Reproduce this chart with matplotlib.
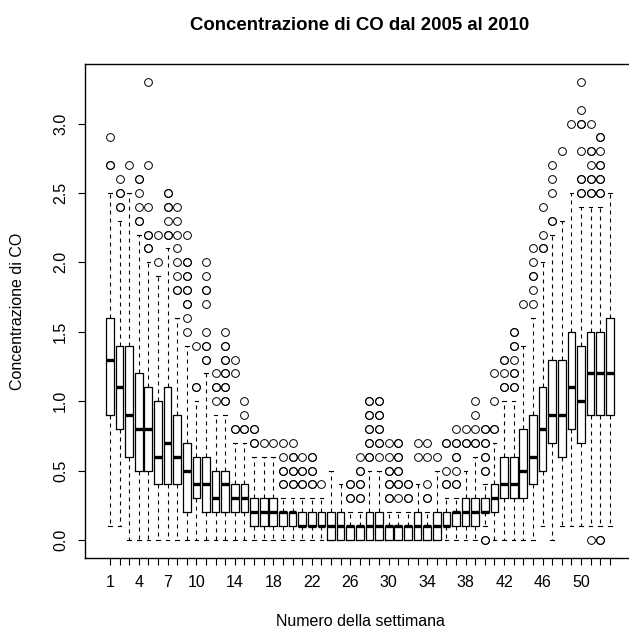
import matplotlib
matplotlib.use("Agg")
import matplotlib.pyplot as plt

plt.rcParams['font.family'] = ['Liberation Sans', 'DejaVu Sans']

# weekly CO concentration summaries
weeks = list(range(1, 54))
q1 = [0.9, 0.8, 0.6, 0.5, 0.5, 0.4, 0.4, 0.4, 0.2, 0.3,
      0.2, 0.2, 0.2, 0.2, 0.2, 0.1, 0.1, 0.1, 0.1, 0.1,
      0.1, 0.1, 0.1, 0.0, 0.0, 0.0, 0.0, 0.0, 0.0, 0.0,
      0.0, 0.0, 0.0, 0.0, 0.0, 0.1, 0.1, 0.1, 0.1, 0.2,
      0.2, 0.3, 0.3, 0.3, 0.4, 0.5, 0.7, 0.6, 0.8, 0.7,
      0.9, 0.9, 0.9]
med = [1.3, 1.1, 0.9, 0.8, 0.8, 0.6, 0.7, 0.6, 0.5, 0.4,
       0.4, 0.3, 0.4, 0.3, 0.3, 0.2, 0.2, 0.2, 0.2, 0.2,
       0.1, 0.1, 0.1, 0.1, 0.1, 0.1, 0.1, 0.1, 0.1, 0.1,
       0.1, 0.1, 0.1, 0.1, 0.1, 0.1, 0.2, 0.2, 0.2, 0.2,
       0.3, 0.4, 0.4, 0.5, 0.6, 0.8, 0.9, 0.9, 1.1, 1.0,
       1.2, 1.2, 1.2]
q3 = [1.6, 1.4, 1.4, 1.2, 1.1, 1.0, 1.1, 0.9, 0.7, 0.6,
      0.6, 0.5, 0.5, 0.4, 0.4, 0.3, 0.3, 0.3, 0.2, 0.2,
      0.2, 0.2, 0.2, 0.2, 0.2, 0.1, 0.1, 0.2, 0.2, 0.1,
      0.1, 0.1, 0.2, 0.1, 0.2, 0.2, 0.2, 0.3, 0.3, 0.3,
      0.4, 0.6, 0.6, 0.8, 0.9, 1.1, 1.3, 1.3, 1.5, 1.4,
      1.5, 1.5, 1.6]
whis_lo = [0.1, 0.1] + [0.0] * 37 + [0.1] + [0.0] * 5 + [0.1, 0.0, 0.1, 0.1, 0.1, 0.1, 0.1, 0.1]
whis_hi = [2.5, 2.3, 2.5, 2.2, 2.0, 1.9, 2.1, 1.6, 1.4, 1.0,
           1.2, 0.9, 0.9, 0.7, 0.7, 0.6, 0.6, 0.6, 0.3, 0.3,
           0.3, 0.3, 0.3, 0.5, 0.4, 0.2, 0.2, 0.5, 0.5, 0.2,
           0.2, 0.2, 0.4, 0.2, 0.5, 0.3, 0.3, 0.5, 0.6, 0.4,
           0.7, 1.0, 1.0, 1.4, 1.6, 2.0, 2.2, 2.3, 2.5, 2.4,
           2.4, 2.4, 2.5]
# repeated values = overlapping (darker) circles
outliers = [
    [2.7, 2.7, 2.9],
    [2.4, 2.4, 2.5, 2.5, 2.6],
    [2.7],
    [2.3, 2.3, 2.4, 2.5, 2.6, 2.6],
    [2.1, 2.1, 2.2, 2.2, 2.4, 2.7, 3.3],
    [2.0, 2.2],
    [2.2, 2.2, 2.3, 2.4, 2.4, 2.5, 2.5],
    [1.8, 1.8, 1.9, 2.0, 2.1, 2.2, 2.3, 2.4],
    [1.5, 1.6, 1.7, 1.7, 1.8, 1.8, 1.9, 1.9, 2.0, 2.0, 2.2],
    [1.1, 1.1, 1.4],
    [1.3, 1.3, 1.4, 1.4, 1.5, 1.7, 1.8, 1.8, 1.9, 2.0],
    [1.0, 1.1, 1.1, 1.2],
    [1.0, 1.0, 1.1, 1.1, 1.2, 1.2, 1.3, 1.3, 1.4, 1.4, 1.5],
    [0.8, 0.8, 1.2, 1.3],
    [0.8, 0.8, 0.9, 1.0],
    [0.7, 0.7, 0.8, 0.8],
    [0.7],
    [0.7],
    [0.4, 0.4, 0.5, 0.5, 0.6, 0.7],
    [0.4, 0.4, 0.5, 0.5, 0.6, 0.6, 0.7],
    [0.4, 0.4, 0.5, 0.5, 0.6],
    [0.4, 0.4, 0.5, 0.5, 0.6, 0.6],
    [0.4],
    [],
    [],
    [0.3, 0.3, 0.4, 0.4],
    [0.3, 0.3, 0.4, 0.4, 0.5, 0.5, 0.6],
    [0.6, 0.6, 0.7, 0.7, 0.8, 0.8, 0.9, 0.9, 1.0, 1.0],
    [0.6, 0.7, 0.7, 0.8, 0.8, 0.9, 0.9, 1.0, 1.0],
    [0.3, 0.3, 0.4, 0.4, 0.5, 0.5, 0.6, 0.7],
    [0.3, 0.4, 0.4, 0.5, 0.5, 0.6, 0.6, 0.7, 0.7],
    [0.3, 0.3, 0.4, 0.4],
    [0.6, 0.7],
    [0.3, 0.3, 0.4, 0.6, 0.7],
    [0.6],
    [0.4, 0.4, 0.5, 0.7, 0.7],
    [0.4, 0.4, 0.5, 0.6, 0.6, 0.7, 0.7, 0.8],
    [0.7, 0.7, 0.8],
    [0.7, 0.7, 0.8, 0.9, 1.0],
    [0.0, 0.0, 0.5, 0.5, 0.6, 0.6, 0.7, 0.7, 0.8, 0.8],
    [0.8, 0.8, 1.0, 1.2],
    [1.1, 1.1, 1.2, 1.3, 1.3],
    [1.1, 1.1, 1.2, 1.2, 1.3, 1.4, 1.4, 1.5, 1.5],
    [1.7],
    [1.7, 1.8, 1.9, 1.9, 2.0, 2.1],
    [2.1, 2.1, 2.2, 2.4],
    [2.3, 2.3, 2.5, 2.6, 2.7],
    [2.8],
    [3.0],
    [2.5, 2.5, 2.6, 2.6, 2.8, 3.0, 3.0, 3.1, 3.3],
    [0.0, 2.5, 2.5, 2.6, 2.6, 2.7, 2.8, 2.8, 3.0],
    [0.0, 0.0, 2.5, 2.5, 2.6, 2.6, 2.7, 2.7, 2.8, 2.9, 2.9],
    [],
]
shown_labels = [1, 4, 7, 10, 14, 18, 22, 26, 30, 34, 38, 42, 46, 50]

stats = []
for i in range(len(weeks)):
    stats.append(dict(q1=q1[i], med=med[i], q3=q3[i],
                      whislo=whis_lo[i], whishi=whis_hi[i], fliers=outliers[i]))

fig = plt.figure(figsize=(6.29, 6.33), dpi=100)
W, H = 629, 633
ax = fig.add_axes([84.7 / W, (H - 558.3) / H, (635 - 84.7) / W, (558.3 - 63.6) / H])

ax.bxp(stats, positions=weeks, widths=0.8, capwidths=0.38,
       boxprops=dict(color='black', linewidth=0.9),
       medianprops=dict(color='black', linewidth=2.4, solid_capstyle='butt'),
       whiskerprops=dict(color='black', linewidth=0.8, linestyle=(0, (3.6, 3.6))),
       capprops=dict(color='black', linewidth=0.8),
       flierprops=dict(marker='o', markerfacecolor='none', markeredgecolor='black',
                       markersize=5.6, markeredgewidth=0.7, linestyle='none'))

ax.set_xlim(-1.62, 55.62)
ax.set_ylim(-0.132, 3.432)
ax.set_xticks(weeks)
ax.set_xticklabels([str(w) if w in shown_labels else '' for w in weeks])
ax.set_yticks([0.0, 0.5, 1.0, 1.5, 2.0, 2.5, 3.0])
ax.set_yticklabels(['0.0', '0.5', '1.0', '1.5', '2.0', '2.5', '3.0'])
ax.tick_params(direction='out', length=5, width=0.8, labelsize=11.5, pad=7)
ax.tick_params(axis='y', labelrotation=90)
for lab in ax.get_yticklabels():
    lab.set_va('center')
for sp in ax.spines.values():
    sp.set_linewidth(1.0)
    sp.set_color('black')

fig.text(360 / W, 1 - 25 / H, 'Concentrazione di CO dal 2005 al 2010',
         ha='center', va='center', fontsize=13.4, fontweight='bold')
fig.text(360 / W, 1 - 622 / H, 'Numero della settimana',
         ha='center', va='center', fontsize=11.5)
fig.text(18 / W, 1 - 311 / H, 'Concentrazione di CO',
         ha='center', va='center', rotation=90, fontsize=11.5)

fig.savefig('out.png', dpi=100)
